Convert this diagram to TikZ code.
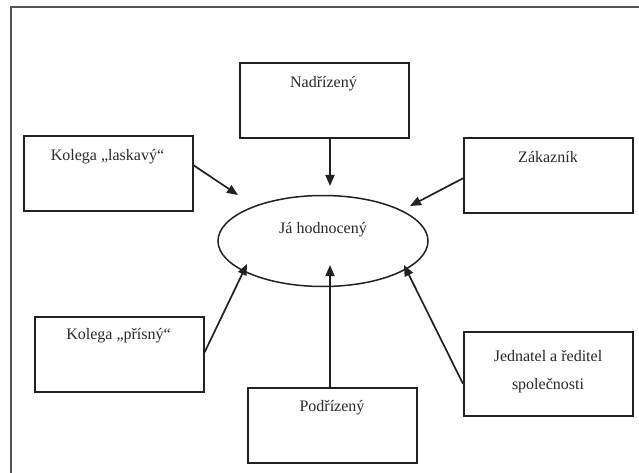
\documentclass[tikz,border=0pt]{standalone}
\usepackage{fontspec}
\setmainfont{Liberation Serif}
\usetikzlibrary{arrows.meta,shapes.geometric}
\definecolor{linec}{HTML}{222222}
\definecolor{framec}{HTML}{555555}
\definecolor{textc}{HTML}{2A2A2A}
\begin{document}
\begin{tikzpicture}[x=1pt,y=-1pt,
  box/.style={draw=linec,line width=1.6pt,rectangle,minimum width=169pt,minimum height=75pt,inner sep=0pt,anchor=north west},
  lbl/.style={text=textc,font=\fontsize{16}{18}\selectfont,inner sep=0pt},
  arr/.style={draw=linec,line width=1.7pt,-{Triangle[length=11pt,width=9pt]}}]
\useasboundingbox[fill=white] (0,0) rectangle (639,473);
\draw[framec,line width=2.2pt] (11,480) -- (11,7) -- (645,7);
% boxes
\node[box] (nad) at (239,62) {};
\node[box] (lask) at (23,135) {};
\node[box] (zak) at (463,137) {};
\node[box] (pris) at (34,316) {};
\node[box,minimum height=84pt] (jed) at (463,331) {};
\node[box] (pod) at (247,387) {};
\node[draw=linec,line width=1.5pt,ellipse,minimum width=210pt,minimum height=91pt,inner sep=0pt] (ja) at (323,241) {};
% labels
\node[lbl] (tnad) at (323.5,84) {Nadřízený};
\node[lbl] (tlask) at (107.5,157) {Kolega „laskavý“};
\node[lbl] (tzak) at (548,157) {Zákazník};
\node[lbl] (tja) at (323,230) {Já hodnocený};
\node[lbl] (tpris) at (118.5,336) {Kolega „přísný“};
\node[lbl] (tjed1) at (548,356) {Jednatel a ředitel};
\node[lbl] (tjed2) at (548,386) {společnosti};
\node[lbl] (tpod) at (332,408) {Podřízený};
% arrow ends
\coordinate (e1) at (330,186);
\coordinate (e2) at (238,195);
\coordinate (e3) at (410,206);
\coordinate (e4) at (247,264);
\coordinate (e5) at (330,265);
\coordinate (e6) at (404,265);
\draw[arr] (nad.south -| e1) -- (e1);
\draw[arr] ([yshift=8pt]lask.east) -- (e2);
\draw[arr] ([yshift=-3pt]zak.west) -- (e3);
\draw[arr] ([yshift=2pt]pris.east) -- (e4);
\draw[arr] (pod.north -| e5) -- (e5);
\draw[arr] ([yshift=-10pt]jed.west) -- (e6);
\end{tikzpicture}
\end{document}
